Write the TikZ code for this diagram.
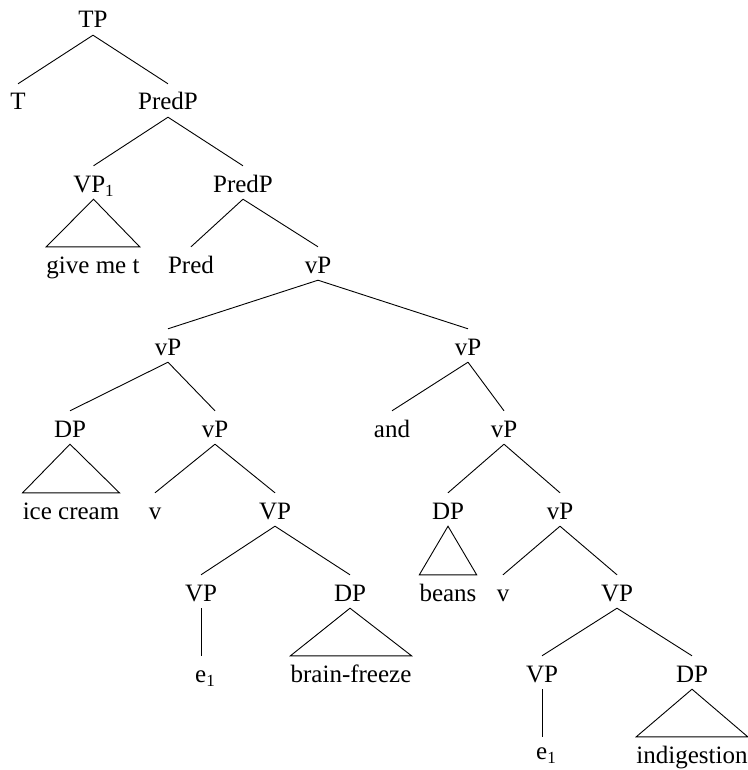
\documentclass[tikz,border=0pt]{standalone}
\usepackage{fontspec}
\setmainfont{Liberation Serif}
\newcommand\subone{\raisebox{-4.5pt}{\fontsize{17}{17}\selectfont 1}}
\begin{document}
\begin{tikzpicture}[x=1pt,y=-1pt,
  lbl/.style={anchor=base, inner xsep=0pt, inner ysep=7pt, text height=19pt, text depth=0pt, font=\fontsize{25}{30}\selectfont},
  edge/.style={line width=0.9pt, line join=miter}]
\useasboundingbox (0,0) rectangle (747,770);
% level 0-1
\node[lbl] (tp) at (93,28) {TP};
\node[lbl] (t) at (18,110) {T};
\node[lbl] (predp1) at (168,110) {PredP};
% level 2
\node[lbl] (vp1) at (93.5,192) {VP\subone};
\node[lbl] (predp2) at (243,192) {PredP};
% level 3
\node[lbl] (give) at (93,273) {give me t};
\node[lbl] (pred) at (191,273) {Pred};
\node[lbl] (vpA) at (318,273) {vP};
% level 4
\node[lbl] (vpL) at (168,355) {vP};
\node[lbl] (vpR) at (468,355) {vP};
% level 5
\node[lbl] (dpL) at (70,437) {DP};
\node[lbl] (vpL2) at (215,437) {vP};
\node[lbl] (and) at (392,437) {and};
\node[lbl] (vpR2) at (504,437) {vP};
% level 6
\node[lbl] (ice) at (71,519) {ice cream};
\node[lbl] (vL) at (155,519) {v};
\node[lbl] (VPL) at (275,519) {VP};
\node[lbl] (dpR) at (448,519) {DP};
\node[lbl] (vpR3) at (560,519) {vP};
% level 7
\node[lbl] (VPL2) at (201,601) {VP};
\node[lbl] (dpL2) at (350,601) {DP};
\node[lbl] (beans) at (448,601) {beans};
\node[lbl] (vR) at (503,601) {v};
\node[lbl] (VPR) at (617,601) {VP};
% level 8
\node[lbl] (e1L) at (205,682) {e\subone};
\node[lbl] (brain) at (351,682) {brain-freeze};
\node[lbl] (VPR2) at (542,682) {VP};
\node[lbl] (dpR2) at (692,682) {DP};
% level 9
\node[lbl] (e1R) at (546,759) {e\subone};
\node[lbl] (indig) at (692,763) {indigestion};

% connectors
\draw[edge] (tp.south) -- (t.north);
\draw[edge] (tp.south) -- (predp1.north);
\draw[edge] (predp1.south) -- (vp1.north);
\draw[edge] (predp1.south) -- (predp2.north);
\draw[edge] (vp1.south) -- (give.north west) -- (give.north east) -- cycle;
\draw[edge] (predp2.south) -- (pred.north);
\draw[edge] (predp2.south) -- (vpA.north);
\draw[edge] (vpA.south) -- (vpL.north);
\draw[edge] (vpA.south) -- (vpR.north);
\draw[edge] (vpL.south) -- (dpL.north);
\draw[edge] (vpL.south) -- (vpL2.north);
\draw[edge] (dpL.south) -- (ice.north west) -- (ice.north east) -- cycle;
\draw[edge] (vpL2.south) -- (vL.north);
\draw[edge] (vpL2.south) -- (VPL.north);
\draw[edge] (VPL.south) -- (VPL2.north);
\draw[edge] (VPL.south) -- (dpL2.north);
\draw[edge] (VPL2.south) -- (VPL2.south |- e1L.north);
\draw[edge] (dpL2.south) -- (brain.north west) -- (brain.north east) -- cycle;
\draw[edge] (vpR.south) -- (and.north);
\draw[edge] (vpR.south) -- (vpR2.north);
\draw[edge] (vpR2.south) -- (dpR.north);
\draw[edge] (vpR2.south) -- (vpR3.north);
\draw[edge] (dpR.south) -- (beans.north west) -- (beans.north east) -- cycle;
\draw[edge] (vpR3.south) -- (vR.north);
\draw[edge] (vpR3.south) -- (VPR.north);
\draw[edge] (VPR.south) -- (VPR2.north);
\draw[edge] (VPR.south) -- (dpR2.north);
\draw[edge] (VPR2.south) -- (VPR2.south |- indig.north);
\draw[edge] (dpR2.south) -- (indig.north west) -- (indig.north east) -- cycle;
\end{tikzpicture}
\end{document}
